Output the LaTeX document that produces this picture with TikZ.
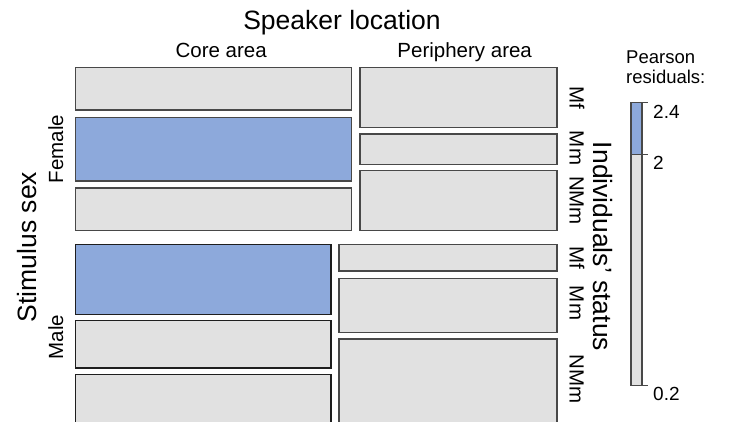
\documentclass[tikz,border=0pt]{standalone}
\usepackage{fontspec}
\setmainfont{Liberation Sans}
\definecolor{tilegrey}{RGB}{225,225,225}
\definecolor{tileblue}{RGB}{141,169,219}
\definecolor{edgegrey}{RGB}{72,72,72}
\definecolor{edgedark}{RGB}{30,30,30}
\tikzset{
  tile/.style={draw=edgegrey, line width=1.4pt, fill=tilegrey},
  hitile/.style={tile, fill=tileblue},
  darktile/.style={tile, draw=edgedark},
  bigtxt/.style={inner sep=0pt, font=\fontsize{26.5}{30}\selectfont},
  midtxt/.style={inner sep=0pt, font=\fontsize{20.5}{24}\selectfont},
  legtxt/.style={inner sep=0pt, font=\fontsize{19}{22}\selectfont},
  headtxt/.style={inner sep=0pt, font=\fontsize{18.5}{20}\selectfont},
  legline/.style={draw=edgegrey, line width=1.2pt},
}
\begin{document}
\begin{tikzpicture}[x=1pt, y=-1pt]
\useasboundingbox (0,0) rectangle (730,421);
\clip (0,0) rectangle (730,421);
\fill[white] (0,0) rectangle (730,421);

% Female, core area
\draw[tile]   (75.4,67.4)  rectangle (351.3,110.0);
\draw[hitile] (75.4,117.4) rectangle (351.3,181.0);
\draw[tile]   (75.4,188.0) rectangle (351.3,230.3);
% Female, periphery area
\draw[tile]   (360.0,67.4)  rectangle (557.0,127.6);
\draw[tile]   (360.0,134.0) rectangle (557.0,164.3);
\draw[tile]   (360.0,170.7) rectangle (557.0,230.3);
% Male, core area
\draw[hitile,draw=edgedark] (75.4,244.7) rectangle (331.0,314.6);
\draw[darktile] (75.4,320.7) rectangle (331.0,368.0);
\draw[darktile] (75.4,374.7) rectangle (331.0,440);
% Male, periphery area
\draw[tile]   (339.0,244.7) rectangle (557.0,271.0);
\draw[tile]   (339.0,278.4) rectangle (557.0,332.6);
\draw[tile]   (339.0,339.0) rectangle (557.0,440);

% Titles
\node[bigtxt, anchor=base] (title) at (342,29.3) {Speaker location};
\node[midtxt, anchor=base] (core) at (221.2,57.3) {Core area};
\node[midtxt, anchor=base] (peri) at (464.7,57.3) {Periphery area};

\node[bigtxt, anchor=base, rotate=90] (stim) at (36.5,247) {Stimulus sex};
\node[midtxt, anchor=base, rotate=90] (fem) at (63,149) {Female};
\node[midtxt, anchor=base, rotate=90] (male) at (63,337) {Male};

\node[bigtxt, anchor=base, rotate=-90] (indiv) at (593.5,246.5) {Individuals' status};
\node[midtxt, anchor=base, rotate=-90] (fmf) at (569.5,97.5) {Mf};
\node[midtxt, anchor=base, rotate=-90] (fmm) at (569.5,148) {Mm};
\node[midtxt, anchor=base, rotate=-90] (fnm) at (569.5,200.5) {NMm};
\node[midtxt, anchor=base, rotate=-90] (mmf) at (569.5,258) {Mf};
\node[midtxt, anchor=base, rotate=-90] (mmm) at (569.5,303) {Mm};
\node[midtxt, anchor=base, rotate=-90] (mnm) at (569.5,379) {NMm};

% Legend
\node[headtxt, align=left, anchor=north west] (pear) at (626,50.5) {Pearson\\residuals:};
\fill[tileblue] (631,102.3) rectangle (642,154.3);
\fill[tilegrey] (631,154.3) rectangle (642,385.7);
\draw[legline] (631,102.3) rectangle (642,385.7);
\draw[legline] (631,102.3) -- (648,102.3);
\draw[legline] (631,154.3) -- (648,154.3);
\draw[legline] (631,385.7) -- (648,385.7);
\node[legtxt, anchor=base west] (l24) at (653,118) {2.4};
\node[legtxt, anchor=base west] (l2) at (653,169) {2};
\node[legtxt, anchor=base west] (l02) at (653,400) {0.2};
\end{tikzpicture}
\end{document}
